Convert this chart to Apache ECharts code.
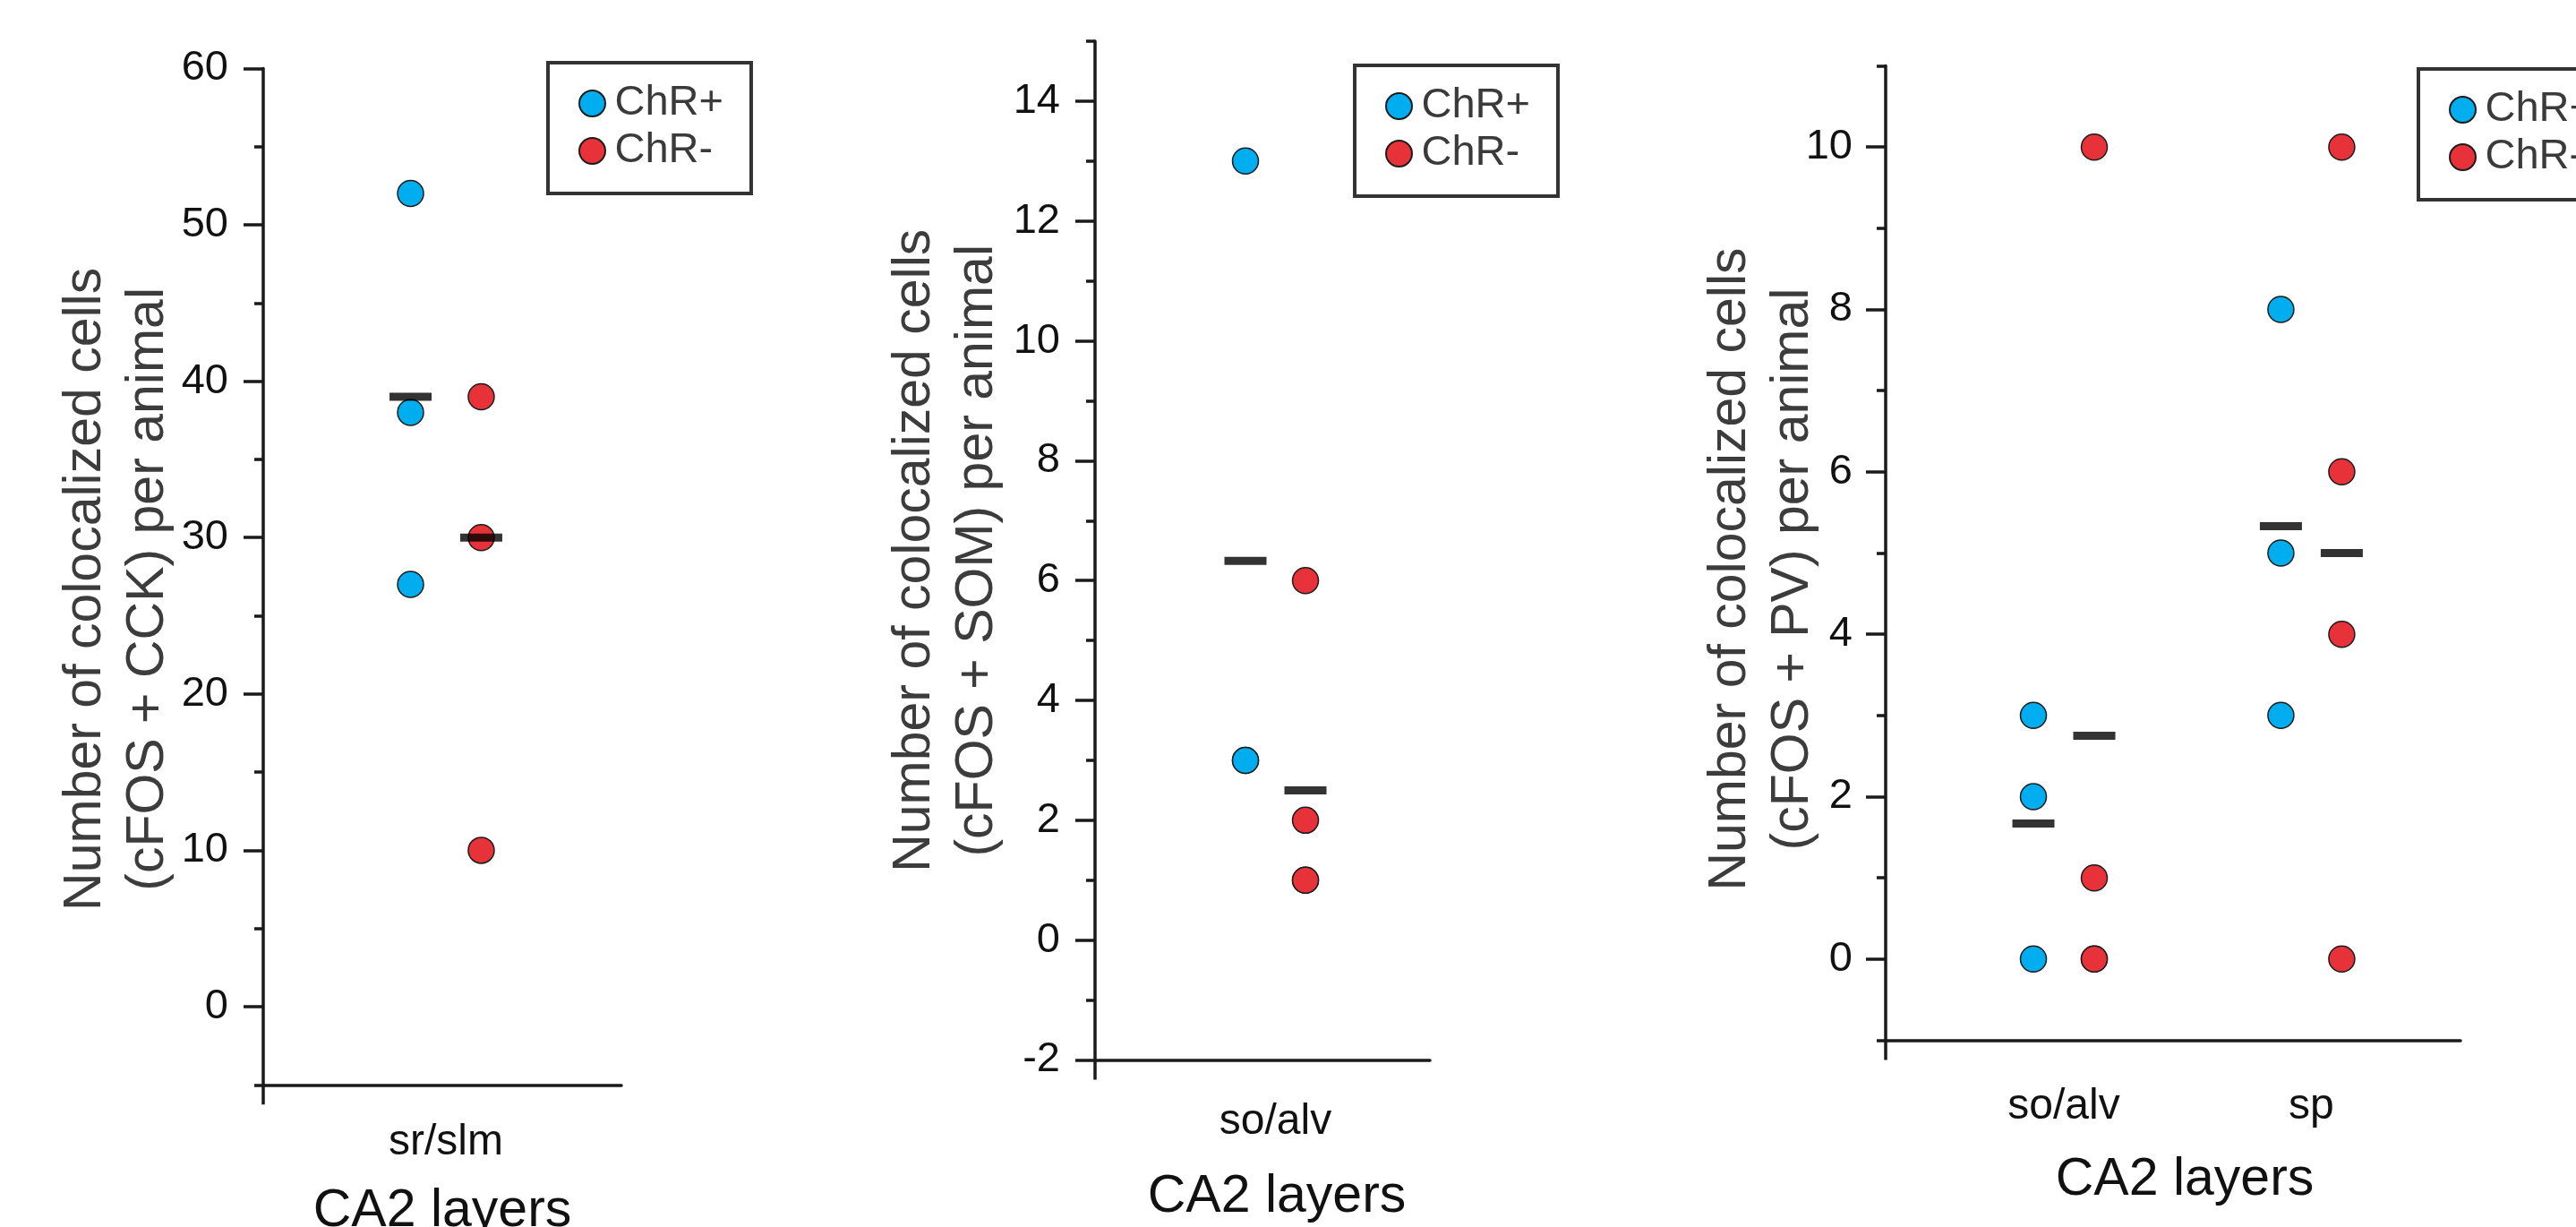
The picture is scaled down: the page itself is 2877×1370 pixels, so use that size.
<!DOCTYPE html>
<html><head><meta charset="utf-8">
<script src="https://cdn.jsdelivr.net/npm/echarts@6/dist/echarts.min.js"></script>
<style>html,body{margin:0;padding:0;background:#fff}#c{width:2877px;height:1370px}</style>
</head><body><div id="c"></div>
<script>
// ---------- DATA ----------
// Panel 1: cFOS + CCK
const cck_categories = ['sr/slm'];
const cck_chrPos = [[52, 38, 27]];
const cck_chrNeg = [[39, 30, 10]];
const cck_meanPos = [39];
const cck_meanNeg = [30];
const cck_majorTicks = [0, 10, 20, 30, 40, 50, 60];
const cck_minorTicks = [-5, 5, 15, 25, 35, 45, 55];

// Panel 2: cFOS + SOM
const som_categories = ['so/alv'];
const som_chrPos = [[13, 3, 3]];
const som_chrNeg = [[6, 2, 1, 1]];
const som_meanPos = [6.33];
const som_meanNeg = [2.5];
const som_majorTicks = [-2, 0, 2, 4, 6, 8, 10, 12, 14];
const som_minorTicks = [-1, 1, 3, 5, 7, 9, 11, 13, 15];

// Panel 3: cFOS + PV
const pv_categories = ['so/alv', 'sp'];
const pv_chrPos = [[3, 2, 0], [8, 5, 3]];
const pv_chrNeg = [[10, 1, 0, 0], [10, 6, 4, 0]];
const pv_meanPos = [1.67, 5.33];
const pv_meanNeg = [2.75, 5];
const pv_majorTicks = [0, 2, 4, 6, 8, 10];
const pv_minorTicks = [-1, 1, 3, 5, 7, 9, 11];

const yTitles = [
  'Number of colocalized cells\n(cFOS + CCK) per animal',
  'Number of colocalized cells\n(cFOS + SOM) per animal',
  'Number of colocalized cells\n(cFOS + PV) per animal'
];
const xTitle = 'CA2 layers';
const legendNames = ['ChR+', 'ChR-'];

// ---------- LAYOUT / STYLE ----------
const FONT = '"Liberation Sans", Arial, Helvetica, sans-serif';
const BLUE = '#00AEEF', RED = '#E8323A', EDGE = '#1c1c1c', AX = '#1a1a1a';
const AXW = 3.5;

const panels = [
  { cats: cck_categories, pos: cck_chrPos, neg: cck_chrNeg, mPos: cck_meanPos, mNeg: cck_meanNeg,
    major: cck_majorTicks, minor: cck_minorTicks, ymin: -5, ymax: 60,
    grid: { left: 294, top: 76.4, width: 400, height: 1134.9 },
    xmin: 0.2609, xmax: 1.7101, off: 0.143, labelMargin: 40.5, xNameGap: 111.5, xNamePad: [0, 0, 0, 0],
    yNameGap: 93, yNamePad: [0, 28, 0, 0], yLabelMargin: 39, legend: { left: 612, top: 70 } },
  { cats: som_categories, pos: som_chrPos, neg: som_chrNeg, mPos: som_meanPos, mNeg: som_meanNeg,
    major: som_majorTicks, minor: som_minorTicks, ymin: -2, ymax: 15,
    grid: { left: 1223, top: 46, width: 374, height: 1137.5 },
    xmin: 0.2699, xmax: 1.625, off: 0.1214, labelMargin: 45.5, xNameGap: 123.5, xNamePad: [0, 0, 0, 32],
    yNameGap: 96, yNamePad: [0, 0, 0, 0], yLabelMargin: 39, legend: { left: 1513, top: 73 } },
  { cats: pv_categories, pos: pv_chrPos, neg: pv_chrNeg, mPos: pv_meanPos, mNeg: pv_meanNeg,
    major: pv_majorTicks, minor: pv_minorTicks, ymin: -1, ymax: 11,
    grid: { left: 2106, top: 73.5, width: 642, height: 1088 },
    xmin: 0.28, xmax: 2.6027, off: 0.123, labelMargin: 50.5, xNameGap: 127, xNamePad: [0, 0, 0, 26],
    yNameGap: 68, yNamePad: [0, 36, 0, 0], yLabelMargin: 37, legend: { left: 2701, top: 77 } }
];

const grids = [], xAxes = [], yAxes = [], series = [], legends = [];

panels.forEach((p, i) => {
  grids.push(Object.assign({ containLabel: false, outerBoundsMode: 'none' }, p.grid));
  const catPos = p.cats.map((c, j) => j + 1);
  xAxes.push({
    type: 'value', gridIndex: i, min: p.xmin, max: p.xmax, position: 'bottom',
    axisLine: { show: true, onZero: false, lineStyle: { color: AX, width: AXW } },
    axisTick: { show: true, length: 22, lineStyle: { color: AX, width: AXW }, customValues: [p.xmin] },
    axisLabel: { show: true, customValues: catPos, margin: p.labelMargin,
      formatter: v => p.cats[Math.round(v) - 1] || '',
      fontFamily: FONT, fontSize: 48, lineHeight: 48, color: '#111' },
    splitLine: { show: false },
    name: xTitle, nameLocation: 'middle', nameGap: p.xNameGap, nameMoveOverlap: false,
    nameTextStyle: { fontFamily: FONT, fontSize: 59, lineHeight: 59, color: '#111', padding: p.xNamePad }
  });
  yAxes.push({
    type: 'value', gridIndex: i, min: p.ymin, max: p.ymax, position: 'left',
    axisLine: { show: true, onZero: false, lineStyle: { color: AX, width: AXW } },
    axisTick: { show: true, length: 22, lineStyle: { color: AX, width: AXW }, customValues: p.major },
    axisLabel: { show: true, customValues: p.major, margin: p.yLabelMargin,
      fontFamily: FONT, fontSize: 47, color: '#111' },
    splitLine: { show: false },
    name: yTitles[i], nameLocation: 'middle', nameGap: p.yNameGap, nameMoveOverlap: false,
    nameTextStyle: { fontFamily: FONT, fontSize: 59, lineHeight: 70, color: '#3c3c3c',
      align: 'center', padding: p.yNamePad }
  });
  yAxes.push({
    type: 'value', gridIndex: i, min: p.ymin, max: p.ymax, position: 'left', offset: 0,
    axisLine: { show: false }, axisLabel: { show: false }, splitLine: { show: false },
    axisTick: { show: true, length: 10, lineStyle: { color: AX, width: AXW }, customValues: p.minor }
  });
  const yi = i * 2;
  const posData = [], negData = [], meanData = [];
  p.cats.forEach((c, j) => {
    const cx = j + 1;
    p.pos[j].forEach(v => posData.push([cx - p.off, v]));
    p.neg[j].forEach(v => negData.push([cx + p.off, v]));
    meanData.push([cx - p.off, p.mPos[j]]);
    meanData.push([cx + p.off, p.mNeg[j]]);
  });
  const ptStyle = col => ({ color: col, borderColor: EDGE, borderWidth: 1.5, opacity: 1 });
  series.push({ name: 'ChR+', type: 'scatter', xAxisIndex: i, yAxisIndex: yi, data: posData,
    symbol: 'circle', symbolSize: 29, itemStyle: ptStyle(BLUE), z: 3 });
  series.push({ name: 'ChR-', type: 'scatter', xAxisIndex: i, yAxisIndex: yi, data: negData,
    symbol: 'circle', symbolSize: 29, itemStyle: ptStyle(RED), z: 3 });
  series.push({ name: 'mean', type: 'scatter', xAxisIndex: i, yAxisIndex: yi, data: meanData,
    symbol: 'rect', symbolSize: [47, 9], itemStyle: { color: '#000' }, z: 4 });
  legends.push({
    data: legendNames, orient: 'vertical', left: p.legend.left, top: p.legend.top,
    icon: 'circle', itemWidth: 40, itemHeight: 29, itemGap: 6,
    padding: [22, 31, 24, 34], borderColor: '#333', borderWidth: 4, borderRadius: 0,
    selectedMode: false,
    textStyle: { fontFamily: FONT, fontSize: 47, lineHeight: 47, color: '#3a3a3a' }
  });
});

const chart = echarts.init(document.getElementById('c'), null, { renderer: 'canvas' });
chart.setOption({
  animation: false, backgroundColor: '#fff',
  grid: grids, xAxis: xAxes, yAxis: yAxes, series: series, legend: legends
});
</script></body></html>
